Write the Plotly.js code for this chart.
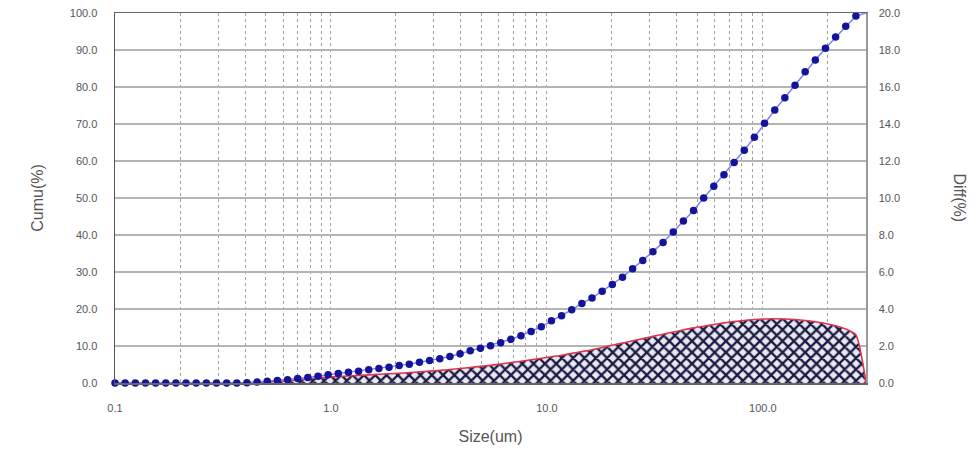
<!DOCTYPE html>
<html>
<head>
<meta charset="utf-8">
<script src="https://cdn.plot.ly/plotly-3.0.1.min.js"></script>
<style>html,body{margin:0;padding:0;background:#fff;}#chart{width:980px;height:461px;}</style>
</head>
<body>
<div id="chart"></div>
<script>
// Particle size channels (um)
const sizes = [0.1,0.1114,0.1242,0.1384,0.1542,0.1718,0.1914,0.2133,0.2377,0.2649,
  0.2951,0.3289,0.3665,0.4084,0.4551,0.5071,0.565,0.6296,0.7016,0.7818,
  0.8711,0.9707,1.082,1.205,1.343,1.497,1.668,1.858,2.071,2.307,
  2.571,2.865,3.193,3.558,3.964,4.417,4.922,5.485,6.112,6.81,
  7.589,8.456,9.423,10.5,11.7,13.04,14.53,16.19,18.04,20.1,
  22.4,24.96,27.81,30.99,34.53,38.48,42.88,47.78,53.24,59.32,
  66.1,73.66,82.08,91.46,101.9,113.6,126.5,141.0,157.1,175.1,
  195.1,217.4,242.2,269.9,300.8];
// Cumulative (%)
const cumu = [0,0,0,0,0,0,0,0,0,0,
  0,0,0,0.1,0.25,0.45,0.65,0.9,1.2,1.5,
  1.85,2.2,2.6,2.9,3.2,3.55,3.9,4.25,4.7,5.1,
  5.6,6.1,6.55,7.15,7.9,8.7,9.4,10.1,10.9,11.8,
  12.8,13.9,15.2,16.8,18.2,19.8,21.5,23.0,24.8,26.6,
  28.6,30.9,33.1,35.5,38.0,40.8,43.8,46.6,50.0,53.2,
  56.3,59.6,62.9,66.4,70.2,73.8,77.1,80.5,84.1,87.3,
  90.5,93.5,96.4,99.2,100.0];
// Differential (%)
const diff = [0,0,0,0,0,0,0,0,0,0,
  0,0,0,0.02,0.04,0.06,0.08,0.12,0.17,0.22,
  0.27,0.31,0.35,0.38,0.41,0.44,0.47,0.5,0.53,0.56,
  0.6,0.64,0.68,0.73,0.78,0.84,0.9,0.96,1.03,1.1,
  1.18,1.26,1.34,1.42,1.5,1.6,1.7,1.8,1.92,2.04,
  2.16,2.28,2.4,2.52,2.64,2.76,2.87,2.98,3.07,3.16,
  3.25,3.32,3.38,3.43,3.46,3.47,3.46,3.43,3.38,3.31,
  3.22,3.1,2.92,2.6,0];

const xMajor = [0.1,1,10,100];
const xMajorText = ['0.1','1.0','10.0','100.0'];
const xMinor = [0.2,0.3,0.4,0.5,0.6,0.7,0.8,0.9,2,3,4,5,6,7,8,9,20,30,40,50,60,70,80,90,200];

const font = 'Liberation Sans, Arial, sans-serif';
const tickCol = '#555';

const traces = [
  {
    type: 'scatter', mode: 'lines', x: sizes, y: diff, xaxis: 'x', yaxis: 'y',
    fill: 'tozeroy', fillcolor: '#e4e4ec',
    fillpattern: {shape: 'x', size: 8, solidity: 0.5, fgcolor: '#1b1b45', bgcolor: '#e8e8f0'},
    line: {width: 0, shape: 'spline', smoothing: 0.6},
    hoverinfo: 'skip', showlegend: false
  },
  {
    type: 'scatter', mode: 'lines', x: sizes, y: diff, xaxis: 'x', yaxis: 'y',
    line: {color: '#e0344a', width: 1.6, shape: 'spline', smoothing: 0.6},
    showlegend: false
  },
  {
    type: 'scatter', mode: 'lines+markers', x: sizes, y: cumu, xaxis: 'x', yaxis: 'y2',
    line: {color: '#8080ff', width: 1.5},
    marker: {color: '#14149a', size: 7.5, symbol: 'circle'},
    cliponaxis: false, showlegend: false
  }
];

const layout = {
  width: 980, height: 461,
  margin: {l: 115, r: 114, t: 13, b: 78},
  paper_bgcolor: '#fff', plot_bgcolor: '#fff',
  font: {family: font, color: tickCol, size: 11},
  showlegend: false,
  xaxis: {
    type: 'log', range: [-1, 2.478],
    tickvals: xMajor, ticktext: xMajorText,
    ticks: '', ticklabelstandoff: 14,
    tickfont: {family: font, size: 11, color: tickCol},
    showgrid: true, gridcolor: '#a0a0a0', griddash: 'dot', gridwidth: 1,
    minor: {tickvals: xMinor, showgrid: true, gridcolor: '#a0a0a0', griddash: 'dot', gridwidth: 1, ticks: ''},
    showline: true, linecolor: '#666', linewidth: 1.5, mirror: true,
    zeroline: false,
    title: {text: 'Size(um)', font: {family: font, size: 16, color: tickCol}, standoff: 18}
  },
  yaxis: {
    side: 'right', range: [0, 20], dtick: 2, tickformat: '.1f',
    ticks: '', ticklabelstandoff: 9,
    tickfont: {family: font, size: 11, color: tickCol},
    showgrid: true, gridcolor: '#b4b4b4', gridwidth: 2,
    showline: true, linecolor: '#999', linewidth: 1.5,
    zeroline: false
  },
  yaxis2: {
    side: 'left', overlaying: 'y', range: [0, 100], dtick: 10, tickformat: '.1f',
    ticks: '', ticklabelstandoff: 14,
    tickfont: {family: font, size: 11, color: tickCol},
    showgrid: true, gridcolor: '#b4b4b4', gridwidth: 2,
    showline: true, linecolor: '#555', linewidth: 1.5,
    zeroline: false,
    title: {text: 'Cumu(%)', font: {family: font, size: 16, color: tickCol}, standoff: 22}
  },
  annotations: [
    {text: 'Diff(%)', xref: 'paper', yref: 'paper', x: 1, xshift: 104, y: 0.5,
     showarrow: false, textangle: 90, font: {family: font, size: 16, color: tickCol}}
  ]
};

Plotly.newPlot('chart', traces, layout, {displayModeBar: false, staticPlot: true});
</script>
</body>
</html>
